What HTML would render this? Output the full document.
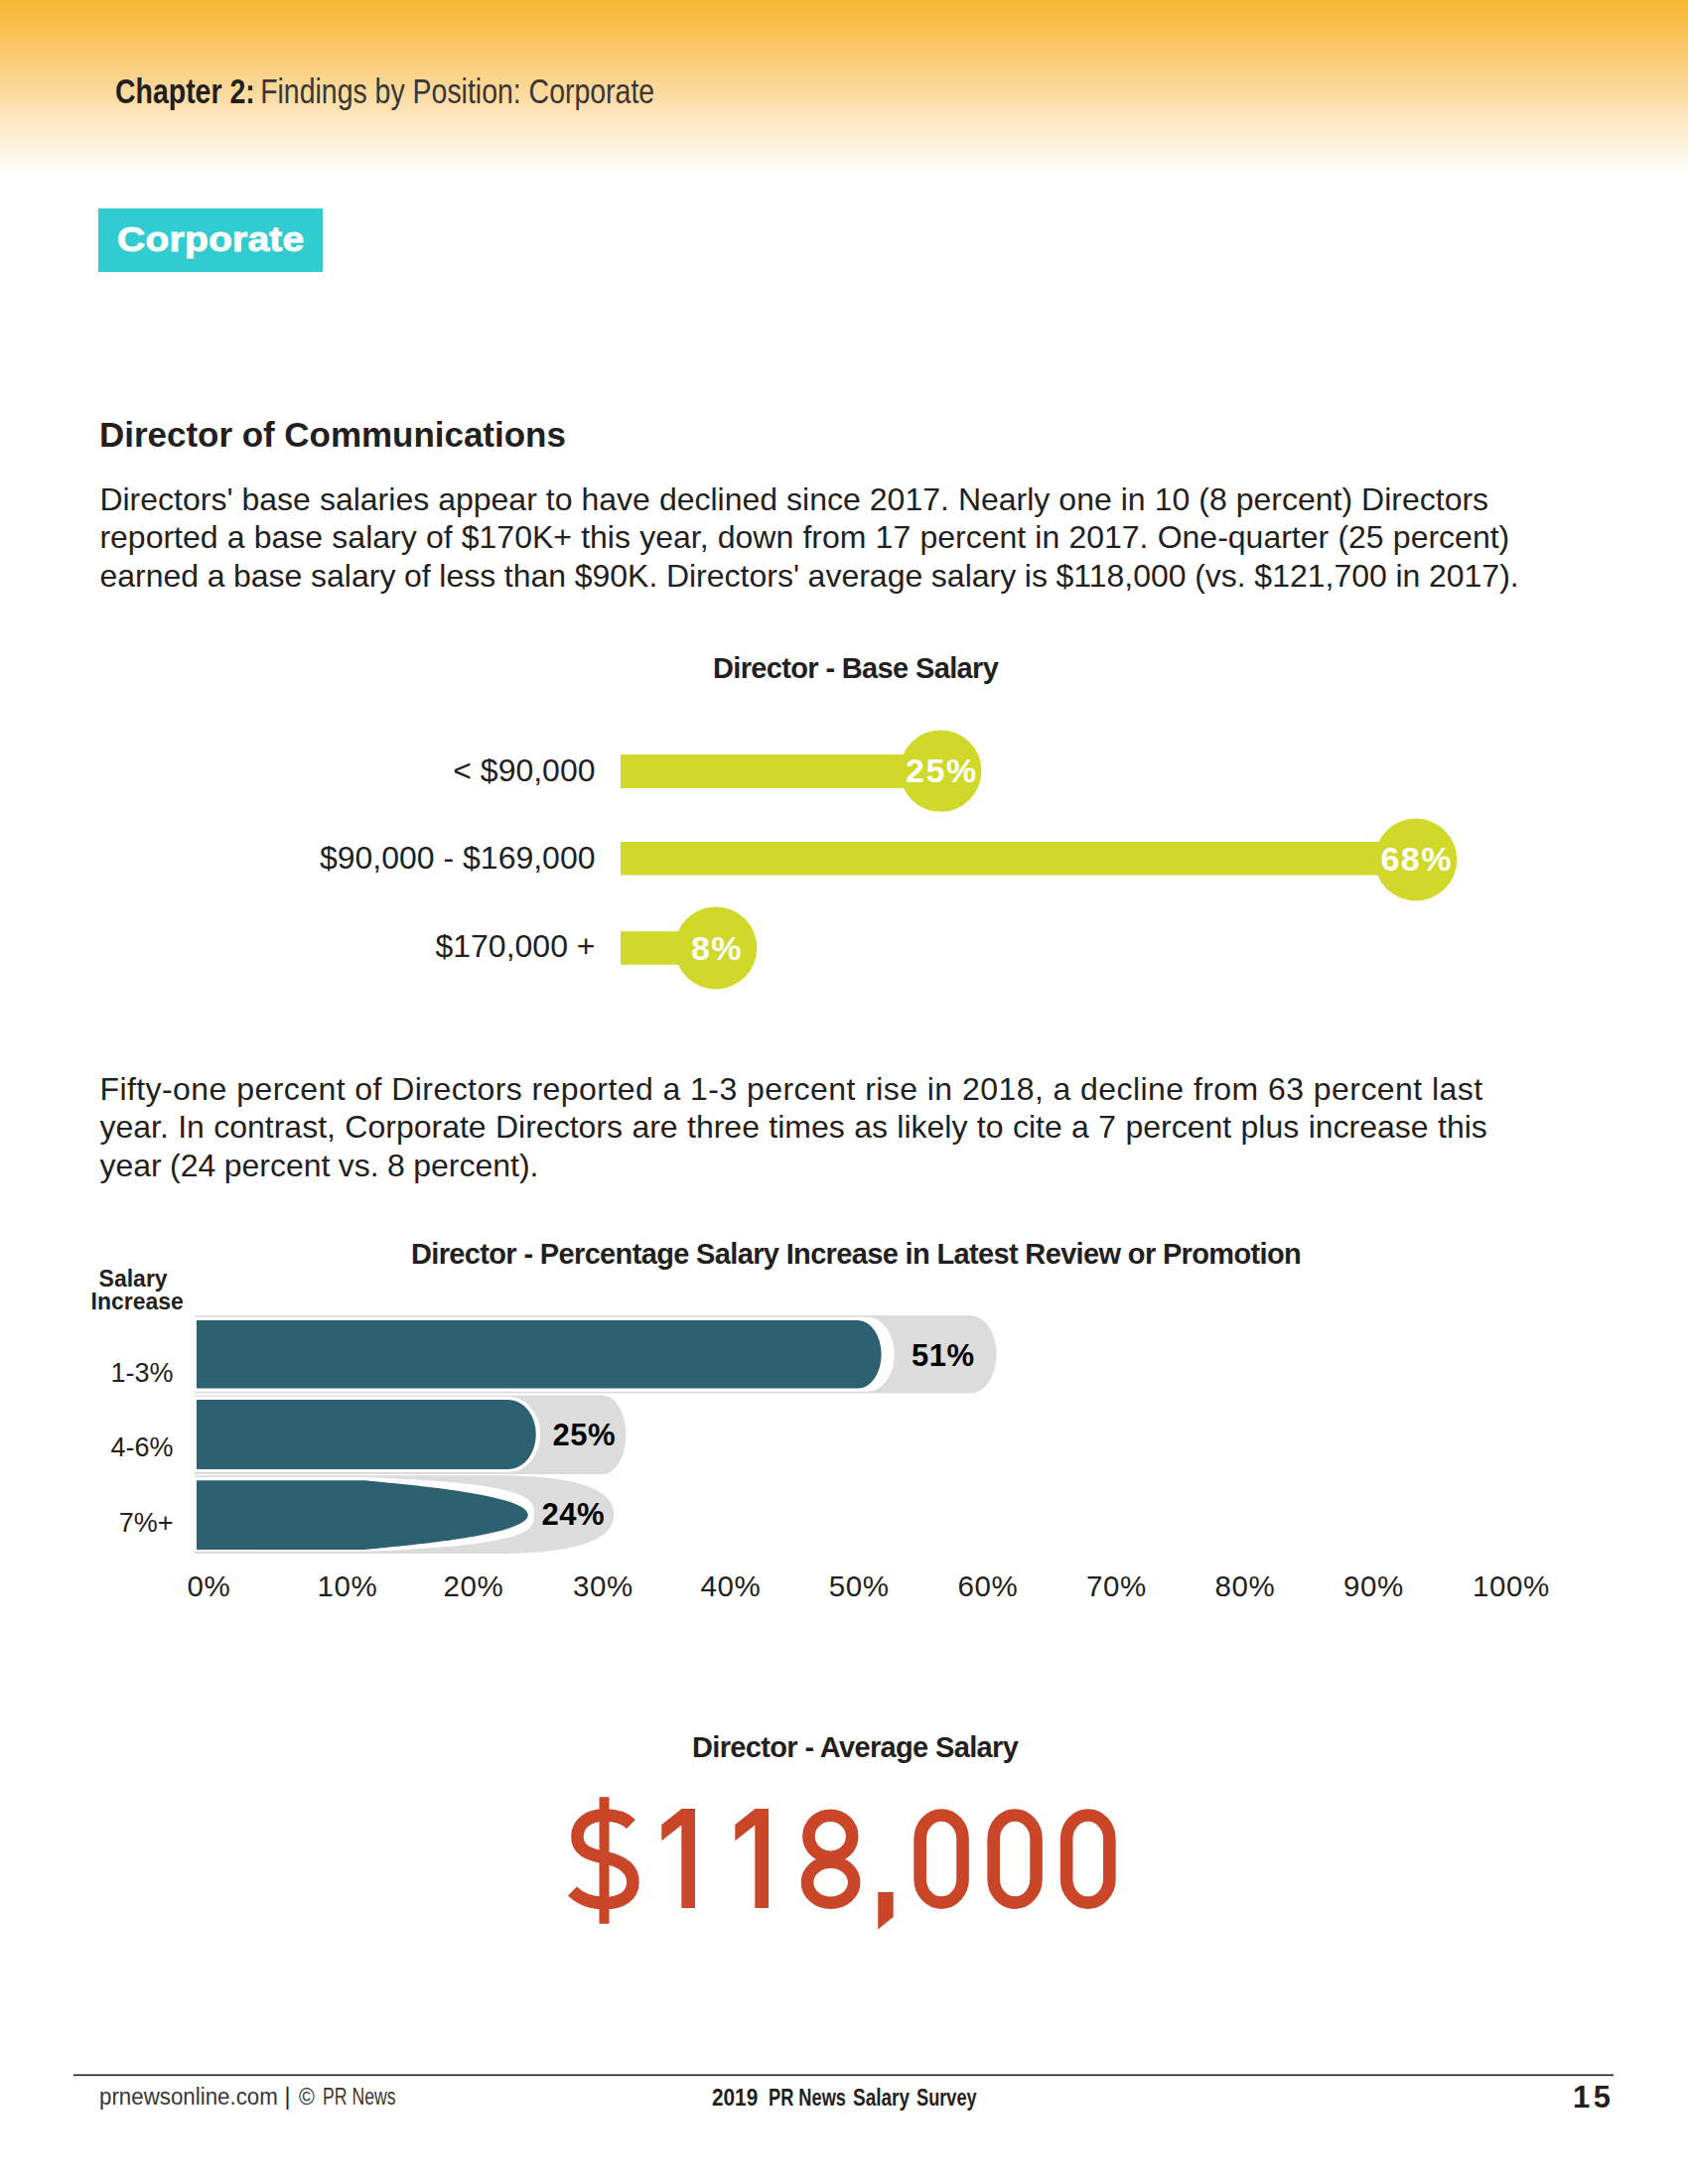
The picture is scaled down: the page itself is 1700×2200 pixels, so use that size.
<!DOCTYPE html>
<html><head><meta charset="utf-8">
<style>
html,body{margin:0;padding:0;}
body{width:1700px;height:2200px;position:relative;overflow:hidden;background:#fff;font-family:"Liberation Sans",sans-serif;color:#231f20;}
.abs{position:absolute;white-space:nowrap;}
#hdr{position:absolute;left:0;top:0;width:1700px;height:174px;background:linear-gradient(to bottom,#f8b835 0px,#f8bd45 20px,#fac460 40px,#fbcb77 60px,#fbd58f 80px,#fcdda6 100px,#fde8c2 120px,#fdefd6 140px,#fef8ec 160px,#ffffff 174px);}
#chap{left:116px;top:72px;font-size:35px;line-height:40px;transform:scaleX(0.813);transform-origin:0 0;}
#chap b{font-weight:bold;}
#chap span{margin-left:6.7px;color:#3a3637;}
#tag{left:99px;top:210px;width:226px;height:64px;background:#30ccd0;}
#tag span{position:absolute;left:18.6px;top:11px;color:#fff;font-weight:bold;font-size:35px;line-height:40px;transform:scaleX(1.115);transform-origin:0 0;-webkit-text-stroke:0.9px #fff;letter-spacing:0.2px;}
#h2{left:100px;top:418px;font-size:35px;font-weight:bold;line-height:40px;letter-spacing:-0.03px;}
.p{left:100.4px;font-size:32px;line-height:38px;}
.ct{font-weight:bold;font-size:29px;line-height:34px;letter-spacing:-0.65px;}
.lbl{font-size:32px;line-height:36px;text-align:right;right:1100.5px;}
.yl{font-size:27px;line-height:30px;text-align:right;right:1525.5px;}
.ax{font-size:29.5px;line-height:32px;width:100px;text-align:center;top:1581.5px;letter-spacing:0.6px;}
#svg{position:absolute;left:0;top:0;}
</style></head><body>
<div id="hdr"></div>
<div id="chap" class="abs"><b>Chapter 2:</b><span>Findings by Position: Corporate</span></div>
<div id="tag" class="abs"><span>Corporate</span></div>

<div id="h2" class="abs">Director of Communications</div>
<div class="abs p" style="top:483.6px;word-spacing:0.11px">Directors' base salaries appear to have declined since 2017. Nearly one in 10 (8 percent) Directors</div>
<div class="abs p" style="top:522.1px;word-spacing:0.3px">reported a base salary of $170K+ this year, down from 17 percent in 2017. One-quarter (25 percent)</div>
<div class="abs p" style="top:560.6px;word-spacing:-0.29px">earned a base salary of less than $90K. Directors' average salary is $118,000 (vs. $121,700 in 2017).</div>

<div class="abs ct" style="left:718px;top:656px">Director - Base Salary</div>

<div class="abs lbl" style="top:757.5px">&lt; $90,000</div>
<div class="abs lbl" style="top:846.3px">$90,000 - $169,000</div>
<div class="abs lbl" style="top:935.2px">$170,000 +</div>

<div class="abs p" style="top:1077.8px;letter-spacing:0.44px">Fifty-one percent of Directors reported a 1-3 percent rise in 2018, a decline from 63 percent last</div>
<div class="abs p" style="top:1116.3px;word-spacing:0.49px">year. In contrast, Corporate Directors are three times as likely to cite a 7 percent plus increase this</div>
<div class="abs p" style="top:1155.4px;word-spacing:-0.52px">year (24 percent vs. 8 percent).</div>

<div class="abs ct" style="left:414px;top:1245.5px">Director - Percentage Salary Increase in Latest Review or Promotion</div>
<div class="abs" style="left:99.6px;top:1277.1px;font-weight:bold;font-size:23px;line-height:23px">Salary</div>
<div class="abs" style="left:91.5px;top:1300.1px;font-weight:bold;font-size:23px;line-height:23px">Increase</div>

<svg id="svg" width="1700" height="2200" viewBox="0 0 1700 2200">
  <!-- chart 1 -->
  <g fill="#d0d82a">
    <rect x="625" y="760" width="322" height="34"/>
    <circle cx="947.3" cy="776.6" r="41.2"/>
    <rect x="625" y="848" width="801" height="33.5"/>
    <circle cx="1425.8" cy="866" r="41.5"/>
    <rect x="625" y="938.2" width="96" height="33.5"/>
    <circle cx="720.9" cy="954.9" r="41.5"/>
  </g>
  <g fill="#fff" font-family="Liberation Sans" font-weight="bold" font-size="34" letter-spacing="1.5" text-anchor="middle">
    <text x="948.4" y="788">25%</text>
    <text x="1426.7" y="877.2">68%</text>
    <text x="722" y="966.6">8%</text>
  </g>
  <!-- chart 2 -->
  <g fill="#dcdcdc">
    <path d="M196 1325.1 H977 A26.70 39.15 0 0 1 1003.7 1364.25 A26.70 39.15 0 0 1 977 1403.4 H196 Z"/>
    <path d="M196 1405.5 H607 A23.40 39.70 0 0 1 630.4 1445.20 A23.40 39.70 0 0 1 607 1484.9 H196 Z"/>
    <path d="M196 1486.3 H500 C580 1486.3, 618.2 1500, 618.2 1525.65 C618.2 1551.3, 580 1565, 500 1565 H196 Z"/>
  </g>
  <g fill="#fff">
    <path d="M194.4 1326.8 H874 A26.70 37.50 0 0 1 900.7 1364.30 A26.70 37.50 0 0 1 874 1401.8 H194.4 Z"/>
    <path d="M194.4 1406.8 H512.2 A32.00 38.15 0 0 1 544.2 1444.95 A32.00 38.15 0 0 1 512.2 1483.1 H194.4 Z"/>
    <path d="M194.4 1488 H367.8 C535.8 1494, 538 1510, 538 1525.4 C538 1540.8, 535.8 1556.8, 367.8 1562.8 H194.4 Z"/>
  </g>
  <g fill="#2d6070">
    <path d="M198 1330.1 H864.2 A23.40 34.25 0 0 1 887.6 1364.35 A23.40 34.25 0 0 1 864.2 1398.6 H198 Z"/>
    <path d="M198 1410.1 H512.2 A27.60 34.90 0 0 1 539.8 1445.00 A27.60 34.90 0 0 1 512.2 1479.9 H198 Z"/>
    <path d="M198 1491.2 H367.8 C392 1494.1, 531.8 1504, 531.8 1526 C531.8 1548, 392 1558, 367.8 1560.9 H198 Z"/>
  </g>
  <g fill="#000" font-family="Liberation Sans" font-weight="bold" font-size="31" letter-spacing="0.5">
    <text x="918" y="1375.9">51%</text>
    <text x="556.5" y="1456.2">25%</text>
    <text x="545.5" y="1536.2">24%</text>
  </g>
  <!-- big number -->
  <g fill="#ca4628">
    <rect x="603.5" y="1810.2" width="10" height="127.6"/>
    <path d="M700 1822 V1922 H686.3 V1838.5 L666.3 1854.3 V1838 L686.5 1822 Z"/>
    <path d="M774 1822 V1922 H760.3 V1838.5 L740.3 1854.3 V1838 L760.5 1822 Z"/>
    <path d="M884.2 1906 H899.7 V1931 L884.2 1943.4 Z"/>
  </g>
  <g fill="none" stroke="#ca4628" stroke-width="12.6">
    <path d="M635.5 1837.5 C629 1831, 620 1828.4, 608.5 1828.4 C592 1828.4, 581.4 1837.5, 581.4 1850 C581.4 1863.5, 592 1868, 609 1871.2 C627 1874.6, 637.4 1882, 637.4 1896 C637.4 1909.5, 626 1917, 609 1917 C594 1917, 583 1911.5, 576.5 1905"/>
    <ellipse cx="836.3" cy="1849.7" rx="21.9" ry="21"/>
    <ellipse cx="836.6" cy="1896.2" rx="23.6" ry="20.5"/>
    <rect x="926.65" y="1828.45" width="42.9" height="88.2" rx="21.45" ry="24"/>
    <rect x="1000.65" y="1828.45" width="42.9" height="88.2" rx="21.45" ry="24"/>
    <rect x="1074.15" y="1828.45" width="43.2" height="88.2" rx="21.6" ry="24"/>
  </g>
  <!-- footer line -->
  <rect x="74" y="2089.5" width="1551" height="1.6" fill="#231f20"/>
</svg>

<div class="abs yl" style="top:1367.5px">1-3%</div>
<div class="abs yl" style="top:1443.3px">4-6%</div>
<div class="abs yl" style="top:1519.3px">7%+</div>

<div class="abs ax" style="left:160.4px">0%</div>
<div class="abs ax" style="left:300px">10%</div>
<div class="abs ax" style="left:427px">20%</div>
<div class="abs ax" style="left:557.3px">30%</div>
<div class="abs ax" style="left:685.8px">40%</div>
<div class="abs ax" style="left:815.2px">50%</div>
<div class="abs ax" style="left:945px">60%</div>
<div class="abs ax" style="left:1074.5px">70%</div>
<div class="abs ax" style="left:1204px">80%</div>
<div class="abs ax" style="left:1333.4px">90%</div>
<div class="abs ax" style="left:1472px">100%</div>

<div class="abs ct" style="left:697px;top:1742.5px">Director - Average Salary</div>

<div class="abs" style="left:100.4px;top:2101.1px;font-size:23px;line-height:23px;color:#3a3637;transform:scaleX(0.970);transform-origin:0 0">prnewsonline.com</div>
<div class="abs" style="left:286.6px;top:2101.1px;font-size:23px;line-height:23px">|</div>
<div class="abs" style="left:301.0px;top:2101.1px;font-size:23px;line-height:23px;color:#3a3637;transform:scaleX(0.929);transform-origin:0 0">©</div>
<div class="abs" style="left:324.6px;top:2101.1px;font-size:23px;line-height:23px;color:#3a3637;transform:scaleX(0.767);transform-origin:0 0">PR News</div>
<div class="abs" style="left:717.2px;top:2101.4px;font-size:24px;line-height:24px;font-weight:bold;transform:scaleX(0.865);transform-origin:0 0">2019</div>
<div class="abs" style="left:773.6px;top:2101.4px;font-size:24px;line-height:24px;font-weight:bold;transform:scaleX(0.759);transform-origin:0 0">PR News</div>
<div class="abs" style="left:858.6px;top:2101.4px;font-size:24px;line-height:24px;font-weight:bold;transform:scaleX(0.790);transform-origin:0 0">Salary</div>
<div class="abs" style="left:922.9px;top:2101.4px;font-size:24px;line-height:24px;font-weight:bold;transform:scaleX(0.758);transform-origin:0 0">Survey</div>
<div class="abs" style="left:1584px;top:2095.5px;font-size:31px;line-height:34px;font-weight:bold;letter-spacing:3.5px">15</div>
</body></html>
